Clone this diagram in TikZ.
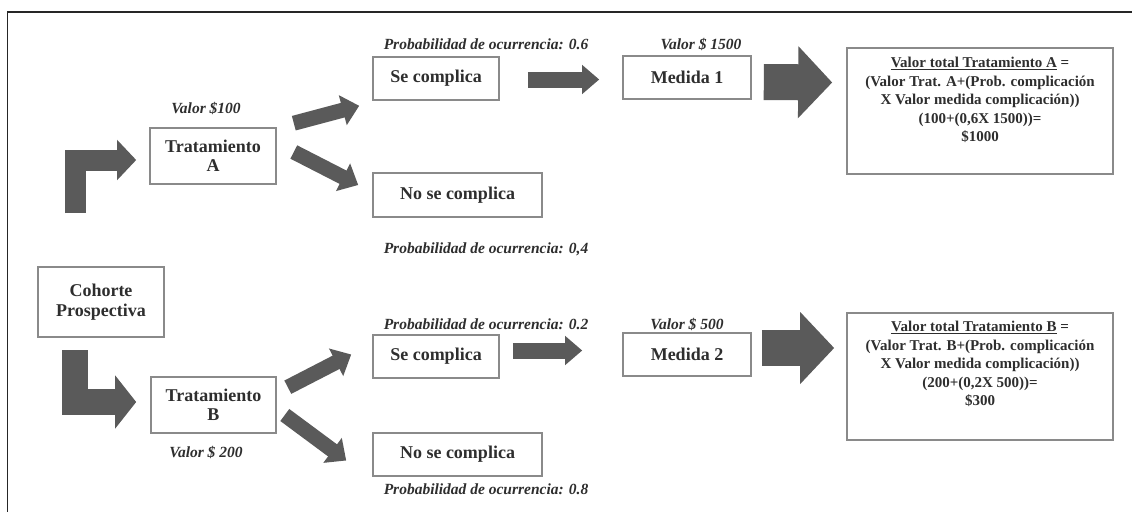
\documentclass[tikz,border=0pt]{standalone}
\usepackage{fontspec}
\setmainfont{Liberation Serif}
\usetikzlibrary{arrows.meta,calc}
\definecolor{boxline}{HTML}{8A8A8A}
\definecolor{arrowgray}{HTML}{5A5A5A}
\definecolor{txt}{HTML}{2E2E2E}
\tikzset{
  box/.style={draw=boxline, line width=1.6pt, fill=white, inner sep=0pt, text=txt,
     font=\fontsize{18}{19.5}\selectfont\bfseries, align=center},
  lbl/.style={text=txt, inner sep=0pt, font=\fontsize{15.5}{17}\selectfont\bfseries\itshape},
  restxt/.style={text=txt, inner sep=0pt, align=center, font=\fontsize{15}{18.5}\selectfont\bfseries},
  slant/.style={draw=arrowgray, line width=15pt, -{Triangle[width=30pt,length=17pt]}},
  thin/.style={draw=arrowgray, line width=16pt, -{Triangle[width=28pt,length=17pt]}},
  bigarr/.style={draw=arrowgray, line width=36pt, -{Triangle[width=70pt,length=34pt]}},
  ellA/.style={draw=arrowgray, line width=21pt, line join=miter, -{Triangle[width=39pt,length=19pt]}},
  ellB/.style={draw=arrowgray, line width=26pt, line join=miter, -{Triangle[width=52pt,length=21pt]}},
}
\begin{document}
\begin{tikzpicture}[x=1pt,y=-1pt]
\useasboundingbox (0,0) rectangle (1132,512);
\fill[white] (0,0) rectangle (1132,512);
% frame
\draw[line width=1.6pt, black!85] (1132,12) -- (7.5,12) -- (7.5,512);

% boxes
\node[box, minimum width=126pt, minimum height=56pt] (tA) at (213,156) {Tratamiento\\A};
\node[box, minimum width=126pt, minimum height=70pt] (cp) at (101,302) {Cohorte\\Prospectiva};
\node[box, minimum width=125pt, minimum height=56pt] (tB) at (213.5,405) {Tratamiento\\B};
\node[box, minimum width=126pt, minimum height=43pt] (scA) at (436,78.5) {Se complica};
\node[box, minimum width=169pt, minimum height=44pt] (nscA) at (457.5,195) {No se complica};
\node[box, minimum width=128pt, minimum height=43pt] (m1) at (687,77.5) {Medida 1};
\node[box, minimum width=266pt, minimum height=126pt] (rA) at (980,111) {};
\node[box, minimum width=126pt, minimum height=43pt] (scB) at (436,356.5) {Se complica};
\node[box, minimum width=169pt, minimum height=43pt] (nscB) at (457.5,454.5) {No se complica};
\node[box, minimum width=128pt, minimum height=43pt] (m2) at (687,354.5) {Medida 2};
\node[box, minimum width=266pt, minimum height=127pt] (rB) at (980,376.5) {};

% result texts
\node[restxt, anchor=north] (rAt) at ($(rA.north)+(0,10)$)
  {\underline{Valor total Tratamiento A} =\\(Valor Trat. A+(Prob. complicación\\X Valor medida complicación))\\(100+(0,6X 1500))=\\\$1000};
\node[restxt, anchor=north] (rBt) at ($(rB.north)+(0,9)$)
  {\underline{Valor total Tratamiento B} =\\(Valor Trat. B+(Prob. complicación\\X Valor medida complicación))\\(200+(0,2X 500))=\\\$300};

% labels
\node[lbl] (vA) at (206,108) {Valor \$100};
\node[lbl] (p06) at (486,44) {Probabilidad de ocurrencia: 0.6};
\node[lbl] (v1500) at (701,44) {Valor \$ 1500};
\node[lbl] (p04) at (486,249) {Probabilidad de ocurrencia: 0,4};
\node[lbl] (p02) at (486,324) {Probabilidad de ocurrencia: 0.2};
\node[lbl] (v500) at (687,324) {Valor \$ 500};
\node[lbl] (vB) at (206,452) {Valor \$ 200};
\node[lbl] (p08) at (486,489) {Probabilidad de ocurrencia: 0.8};

% L arrows
\coordinate (lA) at (75,213);
\coordinate (lB) at (75,350);
\draw[ellA, shorten >=13pt] (lA) |- ($(tA.west)+(0,4)$);
\draw[ellB, shorten >=14pt] (lB) |- ($(tB.west)+(0,-3)$);

% slanted arrows
\draw[slant] ($(tA.north east)+(17,-4)$) -- ($(scA.south west)+(-13,5)$);
\draw[slant] ($(tA.east)+(17,-4)$) -- ($(nscA.west)+(-14,-10)$);
\draw[slant] ($(tB.north east)+(11,11)$) -- ($(scB.west)+(-21,-2)$);
\draw[slant] ($(tB.east)+(8,10)$) -- ($(nscB.west)+(-26,6)$);

% horizontal arrows
\draw[thin] ($(scA.east)+(28,1)$) -- ($(m1.west)+(-23,2)$);
\draw[thin] ($(scB.east)+(13,-6)$) -- ($(m2.west)+(-40,-4)$);

% big arrows
\draw[bigarr] ($(m1.east)+(12,4.5)$) -- ($(rA.west)+(-14,-28.5)$);
\draw[bigarr] ($(m2.east)+(10,-6.5)$) -- ($(rB.west)+(-12,-28.5)$);
\end{tikzpicture}
\end{document}
